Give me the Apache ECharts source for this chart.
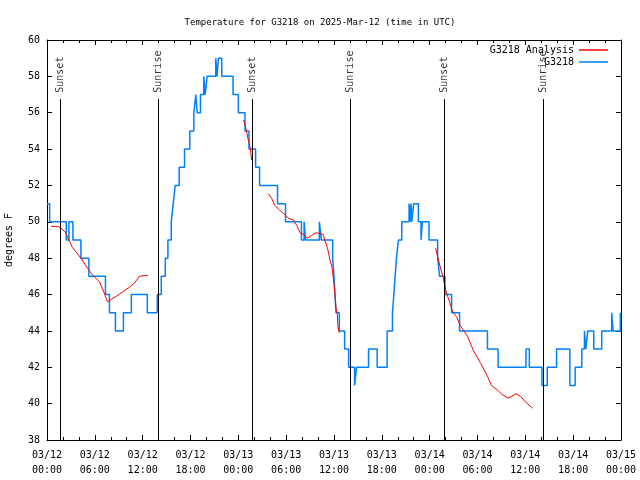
<!DOCTYPE html>
<html><head><meta charset="utf-8">
<script src="https://cdn.jsdelivr.net/npm/echarts@6/dist/echarts.min.js"></script>
<style>html,body{margin:0;padding:0;background:#fff}#c{width:640px;height:480px}</style>
</head><body><div id="c"></div>
<script>
// ---- data (times are "DD HH:MM" in March 2025, UTC) ----
const blueTimes = ['12 00:00','12 00:20','12 02:25','12 02:45','12 03:15','12 04:15','12 05:15','12 07:20','12 07:50','12 08:35',
 '12 09:35','12 10:35','12 12:35','12 13:50','12 14:20','12 14:50','12 15:10','12 15:35','12 15:50','12 16:05',
 '12 16:35','12 17:15','12 17:55','12 18:25','12 18:40','12 18:50','12 19:15','12 19:40','12 19:50','12 20:05',
 '12 21:10','12 21:20','12 21:30','12 21:55','12 23:20','13 00:00','13 00:50','13 01:20','13 02:10','13 02:40',
 '13 04:55','13 05:55','13 07:55','13 08:15','13 08:25','13 10:10','13 10:25','13 11:50','13 12:00','13 12:15',
 '13 12:40','13 13:20','13 13:50','13 14:35','13 14:50','13 16:20','13 17:25','13 18:40','13 19:20','13 19:30',
 '13 19:40','13 19:50','13 20:05','13 20:30','13 21:25','13 21:35','13 21:40','13 21:45','13 22:00','13 22:35',
 '13 22:55','13 23:05','13 23:55','14 01:00','14 01:15','14 01:55','14 02:45','14 03:45','14 07:15','14 08:35',
 '14 12:05','14 12:30','14 14:05','14 14:45','14 15:55','14 17:35','14 18:15','14 19:05','14 19:25','14 19:35',
 '14 19:50','14 20:35','14 21:35','14 22:50','14 23:00','14 23:55','15 00:00'];
const blueTemps = [51,50,49,50,49,48,47,46,45,44,
 45,46,45,46,47,48,49,50,51,52,
 53,54,55,56,57,56,57,58,57,58,
 59,58,59,58,57,56,55,54,53,52,
 51,50,49,50,49,50,49,48,47,45,
 44,43,42,41,42,43,42,44,45,46,
 47,48,49,50,51,50,51,50,51,50,
 49,50,49,48,47,46,45,44,43,42,
 43,42,41,42,43,41,42,43,44,43,
 44,43,44,45,44,45,45];

// analysis series; null marks a gap
const redTimes = ['12 00:30','12 01:05','12 01:10','12 01:40','12 02:20','12 02:45','12 03:10','12 03:50','12 04:25','12 05:05',
 '12 05:40','12 06:35','12 07:10','12 07:35','12 07:55','12 08:40','12 09:30','12 10:20','12 10:55','12 11:35','12 12:15','12 12:40',
 '12 18:00',
 '13 00:40','13 00:55','13 01:15','13 01:30','13 01:40',
 '13 02:30',
 '13 03:45','13 04:10','13 04:35','13 05:10','13 05:50','13 06:15','13 06:55','13 07:20','13 07:45','13 08:10',
 '13 08:40','13 09:10','13 09:45','13 10:15','13 10:40','13 10:50','13 11:10','13 11:30','13 11:45','13 12:00',
 '13 12:15','13 12:25','13 12:30','13 12:40',
 '13 18:00',
 '14 00:45','14 01:00','14 01:25','14 01:40','14 02:00','14 02:15','14 02:30','14 02:50','14 03:20','14 03:50',
 '14 04:45','14 05:30','14 06:25','14 07:15','14 07:45','14 08:30','14 09:05','14 09:50','14 10:20','14 10:50',
 '14 11:25','14 12:00','14 12:55'];
const redTemps = [49.75,49.75,49.7,49.7,49.4,49.0,48.6,48.25,47.9,47.45,
 47.1,46.7,46.1,45.6,45.7,45.9,46.15,46.4,46.6,47.0,47.05,47.05,
 null,
 55.6,55.2,54.5,54.05,53.4,
 null,
 51.55,51.3,50.9,50.65,50.4,50.2,50.1,49.8,49.4,49.3,
 49.1,49.25,49.4,49.35,49.3,49.0,48.6,47.9,47.5,46.6,
 45.25,44.9,44.2,43.9,
 null,
 48.55,48.1,47.35,47.0,46.25,45.9,45.6,45.1,44.8,44.3,
 43.7,42.9,42.2,41.5,41.0,40.75,40.5,40.3,40.4,40.55,
 40.4,40.1,39.75];

const sunTimes = ['12 01:40','12 14:00','13 01:43','13 14:03','14 01:53','14 14:13'];
const sunNames = ['Sunset','Sunrise','Sunset','Sunrise','Sunset','Sunrise'];

const xTickLabels = ['03/12\n00:00','03/12\n06:00','03/12\n12:00','03/12\n18:00','03/13\n00:00','03/13\n06:00',
 '03/13\n12:00','03/13\n18:00','03/14\n00:00','03/14\n06:00','03/14\n12:00','03/14\n18:00','03/15\n00:00'];

// ---- helpers ----
function hrs(s){ const d=parseInt(s.slice(0,2),10), h=parseInt(s.slice(3,5),10), m=parseInt(s.slice(6,8),10); return (d-12)*24+h+m/60; }
const FONT = 'DejaVu Sans Mono';
const blueData = blueTimes.map((t,i)=>[hrs(t), blueTemps[i]]);
const redData = redTimes.map((t,i)=>[hrs(t), redTemps[i]===null ? '-' : redTemps[i]]);
const sunData = sunTimes.map((t,i)=>({value:[hrs(t),57.1], name:sunNames[i]}));
const sunLines = sunTimes.map(t=>[{coord:[hrs(t),56.75]},{coord:[hrs(t),38]}]);

const axisCommonX = {
  type:'value', min:0, max:72, interval:6,
  axisLine:{show:true, onZero:false, lineStyle:{color:'#000', width:1}},
  axisTick:{show:true, inside:true, length:5, lineStyle:{color:'#000'}},
  minorTick:{show:true, splitNumber:3, length:3, lineStyle:{color:'#000'}},
  splitLine:{show:false}, minorSplitLine:{show:false}
};
const axisCommonY = {
  type:'value', min:38, max:60, interval:2,
  axisLine:{show:true, onZero:false, lineStyle:{color:'#000', width:1}},
  axisTick:{show:true, inside:true, length:5, lineStyle:{color:'#000'}},
  splitLine:{show:false}
};

const chart = echarts.init(document.getElementById('c'), null, {renderer:'canvas'});
chart.setOption({
  animation:false,
  backgroundColor:'#fff',
  textStyle:{fontFamily:FONT},
  title:{text:'Temperature for G3218 on 2025-Mar-12 (time in UTC)', left:'center', top:13,
    textStyle:{fontFamily:FONT, fontSize:9, fontWeight:'normal', color:'#000'}},
  grid:{left:47, right:19, top:40, bottom:40, containLabel:false, outerBoundsMode:'none'},
  legend:{orient:'vertical', right:27, top:39, align:'right', itemGap:0, itemWidth:29, itemHeight:1.5,
    icon:'rect', textStyle:{fontFamily:FONT, fontSize:10, color:'#000', lineHeight:12},
    data:[{name:'G3218 Analysis', itemStyle:{color:'#ff0000'}},{name:'G3218', itemStyle:{color:'#0080ff'}}]},
  xAxis:[
    Object.assign({}, axisCommonX, {position:'bottom',
      axisLabel:{show:true, margin:8, color:'#000', fontFamily:FONT, fontSize:10, lineHeight:15,
        formatter:(v)=>xTickLabels[Math.round(v/6)]}}),
    Object.assign({}, axisCommonX, {position:'top', axisLabel:{show:false}})
  ],
  yAxis:[
    Object.assign({}, axisCommonY, {position:'left', name:'degrees F', nameLocation:'middle', nameRotate:90, nameGap:33,
      nameTextStyle:{fontFamily:FONT, fontSize:10, color:'#000'},
      axisLabel:{show:true, margin:7, color:'#000', fontFamily:FONT, fontSize:10}}),
    Object.assign({}, axisCommonY, {position:'right', axisLabel:{show:false}})
  ],
  series:[
    {name:'sun', type:'scatter', data:sunData, symbolSize:0, silent:true, z:1,
      label:{show:true, formatter:(p)=>p.name, rotate:90, position:'inside', align:'left', verticalAlign:'middle',
        color:'#000', fontFamily:FONT, fontSize:10},
      markLine:{symbol:'none', silent:true, animation:false, label:{show:false},
        lineStyle:{color:'#000', width:1, type:'solid'}, emphasis:{disabled:true}, data:sunLines}},
    {name:'G3218 Analysis', type:'line', data:redData, showSymbol:false, connectNulls:false, z:3,
      lineStyle:{color:'#ff0000', width:1}, itemStyle:{color:'#ff0000'}},
    {name:'G3218', type:'line', step:'end', data:blueData, showSymbol:false, z:2,
      lineStyle:{color:'#0080ff', width:1.5}, itemStyle:{color:'#0080ff'}}
  ]
});
</script></body></html>
